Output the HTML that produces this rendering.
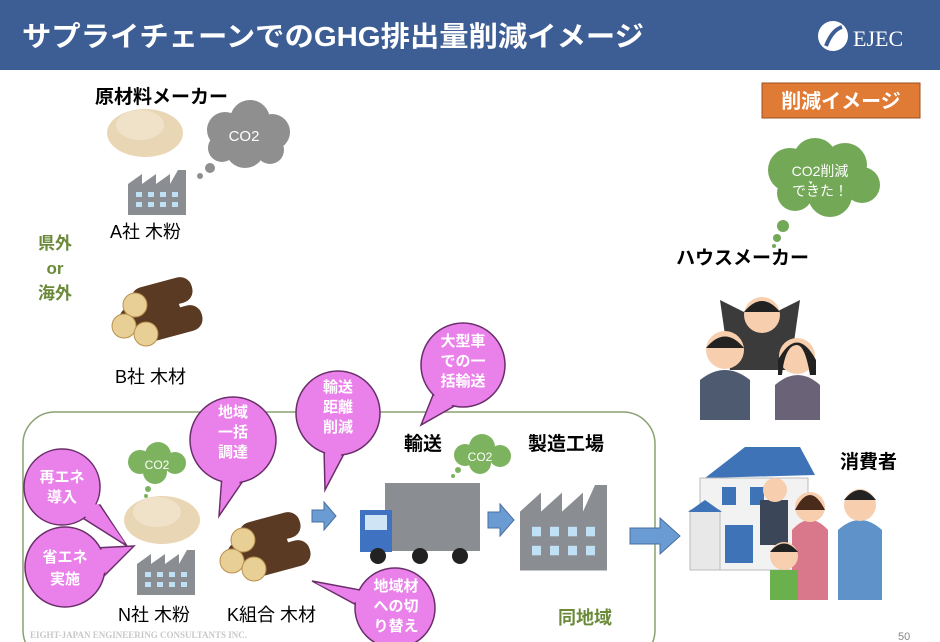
<!DOCTYPE html>
<html><head><meta charset="utf-8"><style>
html,body{margin:0;padding:0;background:#fff;}
svg{display:block;font-family:"Liberation Sans","Noto Sans CJK JP",sans-serif;}
.b{font-weight:bold;}
.pk{fill:#EA80EA;stroke:#6a2f6a;stroke-width:1.5;}
.pf{fill:#EA80EA;}
.pt{fill:#fff;font-weight:bold;font-size:15px;text-anchor:middle;}
</style></head><body>
<svg width="940" height="642" viewBox="0 0 940 642" xmlns="http://www.w3.org/2000/svg">
<defs>
<g id="pile"><ellipse cx="0" cy="0" rx="38" ry="24" fill="#E9D6B5"/><ellipse cx="-5" cy="-8" rx="24" ry="15" fill="#F0E2C8"/></g>
<g id="fac"><path d="M0 45 V14 L14 4 V14 L28 4 V14 L42 4 V14 L50 0 H58 V45 Z" fill="#8a8d92"/>
<g fill="#bfe0f5"><rect x="8" y="22" width="6" height="5"/><rect x="20" y="22" width="6" height="5"/><rect x="32" y="22" width="6" height="5"/><rect x="44" y="22" width="6" height="5"/><rect x="8" y="32" width="6" height="5"/><rect x="20" y="32" width="6" height="5"/><rect x="32" y="32" width="6" height="5"/><rect x="44" y="32" width="6" height="5"/></g></g>
<g id="logs"><g fill="#5a3a22"><rect x="20" y="0" width="62" height="26" rx="12" transform="rotate(-15 20 13)"/><rect x="8" y="20" width="62" height="26" rx="12" transform="rotate(-15 8 33)"/><rect x="30" y="28" width="62" height="26" rx="12" transform="rotate(-15 30 41)"/></g>
<g fill="#E8CF95" stroke="#b8904e"><circle cx="23" cy="15" r="12"/><circle cx="12" cy="36" r="12"/><circle cx="34" cy="44" r="12"/></g></g>
</defs>
<rect x="0" y="0" width="940" height="70" fill="#3C5E94"/>
<text x="22" y="46" font-size="28" fill="#fff" class="b" textLength="622" lengthAdjust="spacingAndGlyphs">サプライチェーンでのGHG排出量削減イメージ</text>
<circle cx="833" cy="36" r="15" fill="#fff"/><path d="M826 46 Q832 30 842 27" stroke="#3C5E94" stroke-width="4" fill="none"/>
<text x="853" y="46" font-size="22" fill="#fff" font-family="Liberation Serif,serif">EJEC</text>

<text x="95" y="103" font-size="19" class="b">原材料メーカー</text>
<use href="#pile" x="145" y="133"/>
<g fill="#8f8f8f"><circle cx="225" cy="130" r="18"/><circle cx="250" cy="120" r="20"/><circle cx="272" cy="132" r="18"/><circle cx="245" cy="148" r="20"/><circle cx="222" cy="148" r="14"/><circle cx="270" cy="150" r="14"/><circle cx="210" cy="168" r="5"/><circle cx="200" cy="176" r="3"/></g>
<text x="244" y="141" font-size="15" fill="#fff" text-anchor="middle">CO2</text>
<use href="#fac" x="128" y="170"/>
<text x="110" y="238" font-size="18">A社 木粉</text>
<g fill="#6a8a3a" class="b" font-size="17" text-anchor="middle"><text x="55" y="249">県外</text><text x="55" y="274">or</text><text x="55" y="299">海外</text></g>
<use href="#logs" x="112" y="290"/>
<text x="115" y="383" font-size="18">B社 木材</text>

<rect x="762" y="83" width="158" height="35" fill="#E07B35" stroke="#9a4f1f"/>
<text x="841" y="108" font-size="20" fill="#fff" class="b" text-anchor="middle">削減イメージ</text>

<g fill="#73A857"><circle cx="790" cy="170" r="22"/><circle cx="815" cy="160" r="22"/><circle cx="845" cy="165" r="22"/><circle cx="862" cy="185" r="18"/><circle cx="830" cy="195" r="22"/><circle cx="795" cy="193" r="18"/><circle cx="783" cy="226" r="6"/><circle cx="777" cy="238" r="4"/><circle cx="774" cy="246" r="2"/></g>
<text x="820" y="176" font-size="14" fill="#fff" text-anchor="middle">CO2削減</text><text x="820" y="196" font-size="14" fill="#fff" text-anchor="middle">できた！</text>
<text x="676" y="264" font-size="19" class="b">ハウスメーカー</text>
<g><path d="M720 300 L760 320 L800 300 L790 370 L730 370 Z" fill="#3b3b3b"/><circle cx="762" cy="315" r="18" fill="#f7cfae"/><path d="M744 312 Q762 290 780 312 Z" fill="#222"/>
<path d="M700 380 Q725 360 750 380 V420 H700 Z" fill="#4d5a70"/><circle cx="725" cy="350" r="19" fill="#f7cfae"/><path d="M706 348 Q725 325 744 348 Z" fill="#222"/>
<path d="M775 385 Q798 365 820 385 V420 H775 Z" fill="#6a6378"/><circle cx="797" cy="356" r="18" fill="#f7cfae"/><path d="M778 360 Q797 325 816 360 L816 375 H810 Q805 345 797 345 Q785 345 782 375 H778 Z" fill="#222"/></g>
<g><path d="M705 478 L745 447 L800 447 L815 475 Z" fill="#3f73b8"/><rect x="700" y="478" width="108" height="92" fill="#f2f2f2" stroke="#bbb"/><rect x="690" y="510" width="30" height="60" fill="#e8e8e8" stroke="#bbb"/><path d="M688 512 L705 500 L722 512 Z" fill="#3f73b8"/>
<g fill="#3f73b8"><rect x="722" y="487" width="14" height="18"/><rect x="750" y="487" width="14" height="18"/><rect x="725" y="525" width="28" height="38"/></g></g>
<g><rect x="760" y="500" width="28" height="45" fill="#3b4658"/><circle cx="775" cy="490" r="12" fill="#f7cfae"/>
<path d="M792 530 Q810 510 828 530 V600 H792 Z" fill="#d9788a"/><circle cx="810" cy="507" r="15" fill="#f7cfae"/><path d="M795 510 Q810 480 825 510 Z" fill="#4a2b1b"/>
<path d="M838 530 Q860 510 882 530 V600 H838 Z" fill="#5e92c9"/><circle cx="860" cy="505" r="16" fill="#f7cfae"/><path d="M844 500 Q860 480 876 500 Z" fill="#222"/>
<rect x="770" y="570" width="28" height="30" fill="#6ab04c"/><circle cx="784" cy="556" r="14" fill="#f7cfae"/><path d="M770 552 Q784 535 798 552 Z" fill="#222"/></g>
<text x="840" y="468" font-size="19" class="b">消費者</text>

<rect x="23" y="412" width="632" height="250" rx="32" fill="none" stroke="#8aa070" stroke-width="1.5"/>
<g fill="#7DB35F"><circle cx="140" cy="462" r="12"/><circle cx="158" cy="455" r="13"/><circle cx="175" cy="463" r="11"/><circle cx="155" cy="472" r="12"/><circle cx="148" cy="489" r="3"/><circle cx="146" cy="496" r="2"/></g>
<text x="157" y="469" font-size="12" fill="#fff" text-anchor="middle">CO2</text>
<use href="#pile" x="162" y="520"/>
<use href="#fac" x="137" y="550"/>
<text x="118" y="621" font-size="18">N社 木粉</text>
<use href="#logs" x="220" y="525"/>
<text x="227" y="621" font-size="18">K組合 木材</text>

<g fill="#7DB35F"><circle cx="465" cy="455" r="11"/><circle cx="482" cy="447" r="13"/><circle cx="500" cy="456" r="11"/><circle cx="480" cy="463" r="11"/><circle cx="458" cy="470" r="3"/><circle cx="453" cy="476" r="2"/></g>
<text x="480" y="461" font-size="12" fill="#fff" text-anchor="middle">CO2</text>
<text x="404" y="450" font-size="19" class="b">輸送</text>
<text x="528" y="450" font-size="19" class="b">製造工場</text>
<path d="M312 510 H324 V502 L336 516 L324 530 V522 H312 Z" fill="#6a9bd2" stroke="#4a6fa0"/>
<path d="M488 512 H500 V504 L514 520 L500 536 V528 H488 Z" fill="#6a9bd2" stroke="#4a6fa0"/>
<path d="M630 528 H660 V518 L680 536 L660 554 V544 H630 Z" fill="#6a9bd2" stroke="#4a6fa0"/>
<rect x="385" y="483" width="95" height="68" fill="#8a8d92"/><path d="M360 510 H392 V552 H360 Z" fill="#3f72c0"/><rect x="365" y="515" width="22" height="15" fill="#cfe4f5"/>
<g fill="#222"><circle cx="378" cy="556" r="8"/><circle cx="420" cy="556" r="8"/><circle cx="460" cy="556" r="8"/></g>
<g transform="translate(520 485) scale(1.5 1.9)"><use href="#fac"/></g>

<g>
<polygon class="pk" points="70,510 100,505 127,546"/>
<circle class="pk" cx="62" cy="487" r="38"/>
<polygon class="pf" points="72,508 98,504 125,543"/>
<text class="pt" x="62" y="482">再エネ</text><text class="pt" x="62" y="502">導入</text>

<polygon class="pk" points="95,548 100,580 134,546"/>
<circle class="pk" cx="65" cy="567" r="40"/>
<polygon class="pf" points="97,550 100,577 131,547"/>
<text class="pt" x="65" y="562">省エネ</text><text class="pt" x="65" y="584">実施</text>

<polygon class="pk" points="222,475 245,478 219,516"/>
<circle class="pk" cx="233" cy="440" r="43"/>
<polygon class="pf" points="223,474 243,477 220,512"/>
<text class="pt" x="233" y="417">地域</text><text class="pt" x="233" y="437">一括</text><text class="pt" x="233" y="457">調達</text>

<polygon class="pk" points="324,448 346,450 325,490"/>
<circle class="pk" cx="338" cy="413" r="42"/>
<polygon class="pf" points="325,447 344,449 326,486"/>
<text class="pt" x="338" y="392">輸送</text><text class="pt" x="338" y="412">距離</text><text class="pt" x="338" y="432">削減</text>

<polygon class="pk" points="435,390 458,404 421,425"/>
<circle class="pk" cx="463" cy="365" r="42"/>
<polygon class="pf" points="436,391 456,403 424,422"/>
<text class="pt" x="463" y="346">大型車</text><text class="pt" x="463" y="366">での一</text><text class="pt" x="463" y="386">括輸送</text>

<polygon class="pk" points="360,590 362,608 312,581"/>
<circle class="pk" cx="395" cy="608" r="40"/>
<polygon class="pf" points="361,591 363,606 316,583"/>
<text class="pt" x="396" y="591">地域材</text><text class="pt" x="396" y="611">への切</text><text class="pt" x="396" y="631">り替え</text>
</g>

<text x="558" y="624" font-size="18" fill="#6a8a3a" class="b">同地域</text>
<text x="30" y="638" font-size="9" fill="#c8c8c8" font-family="Liberation Serif,serif" class="b">EIGHT-JAPAN ENGINEERING CONSULTANTS INC.</text>
<text x="898" y="640" font-size="11" fill="#888">50</text>
</svg>
</body></html>
